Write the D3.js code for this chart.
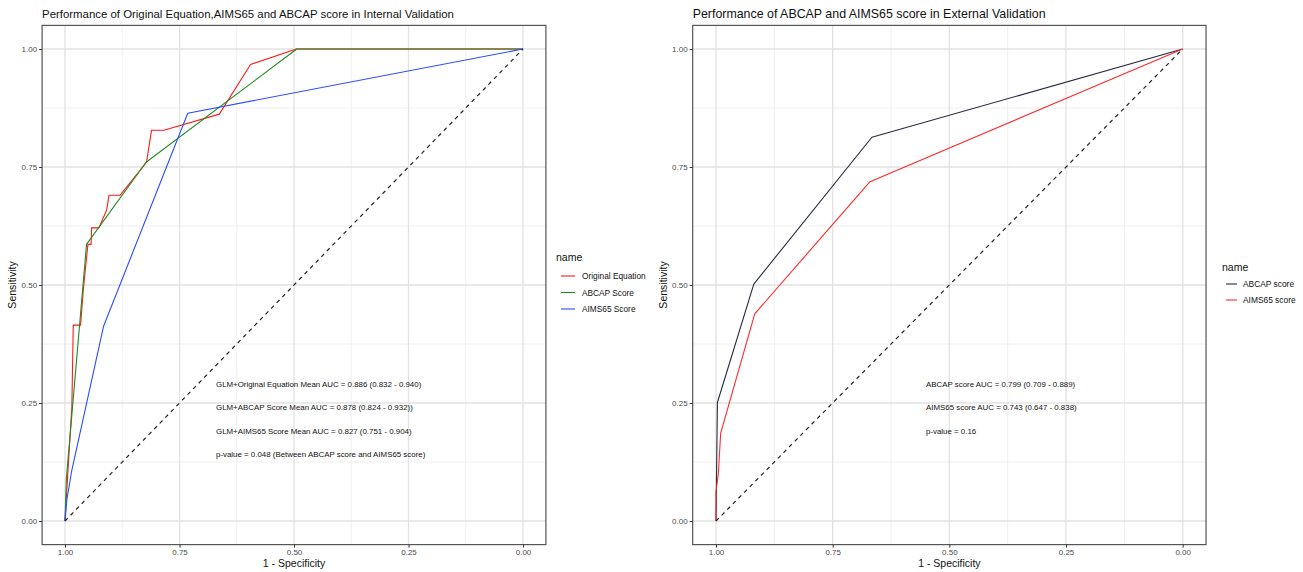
<!DOCTYPE html>
<html>
<head>
<meta charset="utf-8">
<script src="https://cdn.jsdelivr.net/npm/d3@7"></script>
<style>
  html, body { margin: 0; padding: 0; background: #fff; }
  svg { display: block; font-family: "Liberation Sans", Arial, sans-serif; }
</style>
</head>
<body>
<svg id="chart" width="1303" height="572"></svg>
<script>
// ---------- DATA ----------
const tickValues = [1.00, 0.75, 0.50, 0.25, 0.00];
const tickLabels = ["1.00", "0.75", "0.50", "0.25", "0.00"];

// Internal validation (left)
const internalTitle = "Performance of Original Equation,AIMS65 and ABCAP score in Internal Validation";
const internalNames = ["Original Equation", "ABCAP Score", "AIMS65 Score"];
const origSpec = [1, 0.993, 0.985, 0.982, 0.966, 0.960, 0.950, 0.943, 0.942, 0.926, 0.909, 0.904, 0.880, 0.822, 0.811, 0.784, 0.663, 0.595, 0.495, 0];
const origSens = [0, 0.115, 0.242, 0.415, 0.415, 0.490, 0.586, 0.586, 0.621, 0.621, 0.659, 0.690, 0.690, 0.760, 0.828, 0.828, 0.862, 0.967, 1, 1];
const abcapSpec = [1, 0.997, 0.953, 0.823, 0.494, 0];
const abcapSens = [0, 0.090, 0.586, 0.760, 1, 1];
const aimsSpec = [1, 0.996, 0.985, 0.916, 0.732, 0];
const aimsSens = [0, 0.045, 0.108, 0.412, 0.864, 1];
const internalNotes = [
  "GLM+Original  Equation Mean AUC = 0.886 (0.832 - 0.940)",
  "GLM+ABCAP Score Mean AUC = 0.878 (0.824 - 0.932))",
  "GLM+AIMS65 Score Mean AUC = 0.827 (0.751 - 0.904)",
  "p-value = 0.048 (Between ABCAP score and AIMS65 score)"
];

// External validation (right)
const externalTitle = "Performance of ABCAP and AIMS65 score in External Validation";
const externalNames = ["ABCAP score", "AIMS65 score"];
const extAbcapSpec = [1, 0.997, 0.919, 0.666, 0];
const extAbcapSens = [0, 0.251, 0.502, 0.813, 1];
const extAimsSpec = [1, 1, 0.995, 0.990, 0.917, 0.670, 0];
const extAimsSens = [0, 0.062, 0.100, 0.186, 0.439, 0.719, 1];
const externalNotes = [
  "ABCAP score AUC = 0.799 (0.709 - 0.889)",
  "AIMS65 score AUC = 0.743 (0.647 - 0.838)",
  "p-value = 0.16"
];

const xTitle = "1 - Specificity";
const yTitle = "Sensitivity";
const legendTitle = "name";

// ---------- DRAW ----------
const svg = d3.select("#chart");
const zip = (a, b) => a.map((v, i) => ({ spec: v, sens: b[i] }));

function drawPanel(cfg) {
  const x = d3.scaleLinear().domain([1, 0]).range([cfg.x0, cfg.x1]);
  const y = d3.scaleLinear().domain([0, 1]).range([cfg.y0, cfg.y1]);
  const left = x(1.05), right = x(-0.05), top = y(1.05), bottom = y(-0.05);
  const g = svg.append("g");

  g.append("rect").attr("x", left).attr("y", top)
    .attr("width", right - left).attr("height", bottom - top).attr("fill", "#fff");

  // minor grid
  const minor = [0.125, 0.375, 0.625, 0.875];
  g.selectAll(".mx").data(minor).enter().append("line")
    .attr("x1", d => x(d)).attr("x2", d => x(d)).attr("y1", top).attr("y2", bottom)
    .attr("stroke", "#eeeeee").attr("stroke-width", 0.9);
  g.selectAll(".my").data(minor).enter().append("line")
    .attr("y1", d => y(d)).attr("y2", d => y(d)).attr("x1", left).attr("x2", right)
    .attr("stroke", "#eeeeee").attr("stroke-width", 0.9);
  // major grid
  g.selectAll(".gx").data(tickValues).enter().append("line")
    .attr("x1", d => x(d)).attr("x2", d => x(d)).attr("y1", top).attr("y2", bottom)
    .attr("stroke", "#e2e2e2").attr("stroke-width", 1.3);
  g.selectAll(".gy").data(tickValues).enter().append("line")
    .attr("y1", d => y(d)).attr("y2", d => y(d)).attr("x1", left).attr("x2", right)
    .attr("stroke", "#e2e2e2").attr("stroke-width", 1.3);

  // curves
  const line = d3.line().x(d => x(d.spec)).y(d => y(d.sens));
  cfg.series.forEach(s => {
    g.append("path").datum(zip(s.spec, s.sens)).attr("d", line)
      .attr("fill", "none").attr("stroke", s.color).attr("stroke-width", 1.1)
      .attr("stroke-linejoin", "round");
  });
  // diagonal reference
  g.append("path").datum([{ spec: 1, sens: 0 }, { spec: 0, sens: 1 }]).attr("d", line)
    .attr("fill", "none").attr("stroke", "#222").attr("stroke-width", 1.2)
    .attr("stroke-dasharray", "4,4");

  // border
  g.append("rect").attr("x", left).attr("y", top)
    .attr("width", right - left).attr("height", bottom - top)
    .attr("fill", "none").attr("stroke", "#555").attr("stroke-width", 1.2);

  // axes
  const fmt = (d) => tickLabels[tickValues.indexOf(d)];
  const xAxis = d3.axisBottom(x).tickValues(tickValues).tickFormat(fmt).tickSize(3).tickPadding(2);
  const yAxis = d3.axisLeft(y).tickValues(tickValues).tickFormat(fmt).tickSize(3).tickPadding(2);
  const gx = g.append("g").attr("transform", `translate(0,${bottom})`).call(xAxis);
  const gy = g.append("g").attr("transform", `translate(${left},0)`).call(yAxis);
  [gx, gy].forEach(a => {
    a.select(".domain").remove();
    a.selectAll(".tick line").attr("stroke", "#333");
    a.selectAll(".tick text").attr("fill", "#4d4d4d").style("font-size", "8px")
      .style("font-family", "'Liberation Sans', Arial, sans-serif");
  });

  // axis titles
  g.append("text").attr("x", (left + right) / 2).attr("y", bottom + 22)
    .attr("text-anchor", "middle").style("font-size", "10.5px").attr("fill", "#111").text(xTitle);
  g.append("text").attr("transform", `translate(${left - 26},${(top + bottom) / 2}) rotate(-90)`)
    .attr("text-anchor", "middle").style("font-size", "10.5px").attr("fill", "#111").text(yTitle);

  // title
  g.append("text").attr("x", left).attr("y", 18).style("font-size", cfg.titleSize)
    .attr("fill", "#111").text(cfg.title);

  // annotations
  cfg.notes.forEach((t, i) => {
    g.append("text").attr("x", cfg.noteX).attr("y", cfg.noteY + i * cfg.noteDy)
      .attr("dominant-baseline", "central").style("font-size", cfg.noteSize)
      .attr("fill", "#111").text(t);
  });

  // legend
  const lg = g.append("g");
  lg.append("text").attr("x", cfg.legX).attr("y", cfg.legY)
    .attr("dominant-baseline", "central").style("font-size", cfg.legTitleSize)
    .attr("fill", "#111").text(legendTitle);
  cfg.series.forEach((s, i) => {
    const yy = cfg.legY + cfg.legFirst + i * cfg.legDy;
    lg.append("line").attr("x1", cfg.legKeyX0).attr("x2", cfg.legKeyX1)
      .attr("y1", yy).attr("y2", yy).attr("stroke", s.color).attr("stroke-width", 1.1);
    lg.append("text").attr("x", cfg.legTextX).attr("y", yy)
      .attr("dominant-baseline", "central").style("font-size", cfg.legSize)
      .attr("fill", "#111").text(s.name);
  });
}

drawPanel({
  x0: 65, x1: 523, y0: 521, y1: 49,
  title: internalTitle, titleSize: "11.4px",
  series: [
    { name: internalNames[0], spec: origSpec, sens: origSens, color: "#ff1a1a" },
    { name: internalNames[1], spec: abcapSpec, sens: abcapSens, color: "#1f8a1f" },
    { name: internalNames[2], spec: aimsSpec, sens: aimsSens, color: "#2a4dff" }
  ],
  notes: internalNotes, noteX: 216, noteY: 384, noteDy: 23.5, noteSize: "7.9px",
  legX: 556, legY: 257, legFirst: 19, legDy: 16.5,
  legKeyX0: 561, legKeyX1: 575, legTextX: 582,
  legTitleSize: "10.5px", legSize: "8.3px"
});

drawPanel({
  x0: 716, x1: 1182.7, y0: 521, y1: 49,
  title: externalTitle, titleSize: "12.4px",
  series: [
    { name: externalNames[0], spec: extAbcapSpec, sens: extAbcapSens, color: "#262a40" },
    { name: externalNames[1], spec: extAimsSpec, sens: extAimsSens, color: "#ff2a2a" }
  ],
  notes: externalNotes, noteX: 926, noteY: 384, noteDy: 23.5, noteSize: "7.9px",
  legX: 1222, legY: 267, legFirst: 17, legDy: 16,
  legKeyX0: 1226, legKeyX1: 1237, legTextX: 1243,
  legTitleSize: "10.5px", legSize: "8.4px"
});
</script>
</body>
</html>
